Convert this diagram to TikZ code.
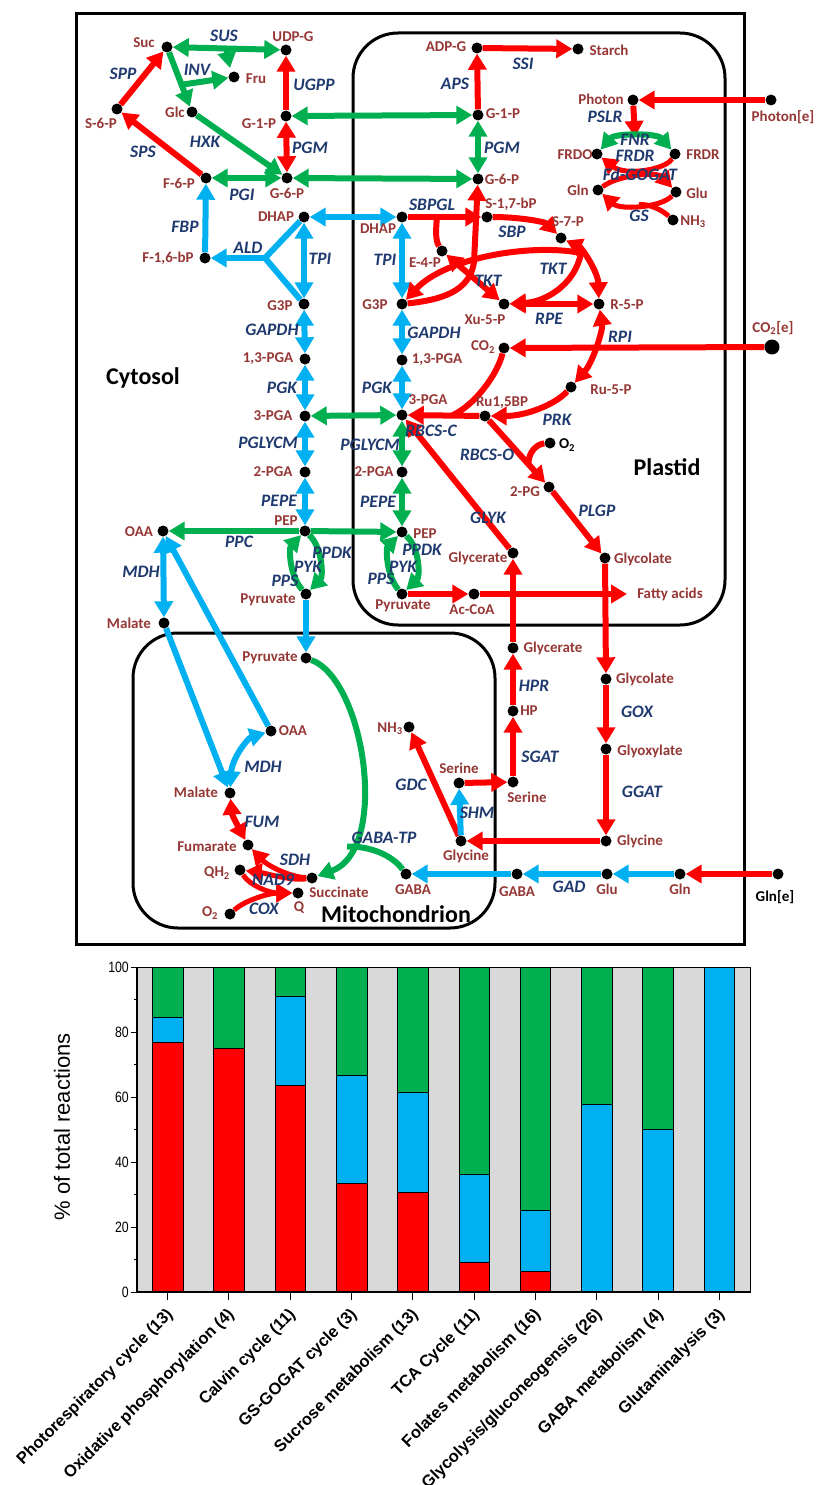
\documentclass[tikz,border=0pt]{standalone}
\usepackage{fontspec}
\setmainfont{Carlito}
\newfontfamily\chartfont{Liberation Sans}
\newfontfamily\narrowfont[FakeStretch=0.82]{Liberation Sans}
\usetikzlibrary{arrows.meta,calc}
\definecolor{cred}{HTML}{FF0000}
\definecolor{cgreen}{HTML}{00B050}
\definecolor{cblue}{HTML}{00B0F0}
\definecolor{cmet}{HTML}{953735}
\definecolor{cenz}{HTML}{1F3A6E}
\definecolor{cgray}{HTML}{D9D9D9}
\pgfdeclarelayer{frame}
\pgfdeclarelayer{paths}
\pgfsetlayers{frame,paths,main}
\tikzset{
  mdot/.style={circle,fill=black,inner sep=0pt,minimum size=11pt},
  bigdot/.style={circle,fill=black,inner sep=0pt,minimum size=15pt},
  mlab/.style={text=cmet,font=\bfseries\fontsize{15}{15}\selectfont,inner sep=0pt},
  blab/.style={mlab,text=black},
  enz/.style={text=cenz,font=\bfseries\itshape\fontsize{17.5}{17.5}\selectfont,inner sep=0pt},
  comp/.style={font=\bfseries\fontsize{24}{24}\selectfont,inner sep=0pt},
  rx/.style={line width=6pt},
  redrx/.style={rx,draw=cred},
  grnrx/.style={rx,draw=cgreen},
  blurx/.style={rx,draw=cblue},
  >={Triangle[length=16pt,width=18pt]},
  bar/.style={draw=black,line width=0.6pt},
}
% metabolite: name, dot position, text, text position
\newcommand\mt[4]{\node[mdot] (#1) at (#2) {}; \node[mlab] (#1-t) at (#4) {#3};}
% enzyme label: name, position, text
\newcommand\ez[3]{\node[enz] (#1) at (#2) {#3};}
\begin{document}
\begin{tikzpicture}[x=1pt,y=-1pt]
\useasboundingbox (0,0) rectangle (816,1485);

% ---------- compartments ----------
\begin{pgfonlayer}{frame}
\draw[line width=3pt] (76,14) rectangle (744,944);
\draw[line width=3pt,rounded corners=45pt] (353,33) rectangle (725,625);
\draw[line width=3pt,rounded corners=45pt] (133,633) rectangle (495,928);
\end{pgfonlayer}
\node[comp] (cyt) at (143,378) {Cytosol};
\node[comp] (pla) at (667,467) {Plastid};
\node[comp] (mit) at (396,914) {Mitochondrion};

% ---------- cytosol metabolites ----------
\mt{Suc}{167,47}{Suc}{144,43}
\mt{UDPG}{286,50}{UDP-G}{293,37}
\mt{Fru}{234,77}{Fru}{256,79}
\mt{Glc}{192,112}{Glc}{175,112}
\mt{SsixP}{117,109}{S-6-P}{101,123}
\mt{GonePc}{286,116}{G-1-P}{259,124}
\mt{FsixP}{206,178}{F-6-P}{179,183}
\mt{GsixPc}{287,178}{G-6-P}{287,193}
\mt{FbP}{205,258}{F-1,6-bP}{168,258}
\mt{DHAPc}{304,217}{DHAP}{276,217}
\mt{GtPc}{304,304}{G3P}{280,306}
\mt{BPGc}{305,359}{1,3-PGA}{268,359}
\mt{TPGc}{305,416}{3-PGA}{273,416}
\mt{DPGc}{305,472}{2-PGA}{273,472}
\mt{PEPc}{305,531}{PEP}{286,521}
\mt{Pyrc}{306,594}{Pyruvate}{268,600}
\mt{OAAc}{163,531}{OAA}{139,532}
\mt{Malc}{164,623}{Malate}{129,623}
\mt{Glycerc}{513,648}{Glycerate}{553,648}
\mt{HP}{513,711}{HP}{529,711}
\mt{Serc}{513,782}{Serine}{527,797}
\mt{Glycolc}{606,679}{Glycolate}{645,679}
\mt{Glyox}{606,749}{Glyoxylate}{650,751}
\mt{Glycc}{606,841}{Glycine}{640,841}
\mt{GABAc}{517,874}{GABA}{517,892}
\mt{Gluc}{607,874}{Glu}{607,889}
\mt{Glnc}{680,874}{Gln}{680,889}

% ---------- plastid metabolites ----------
\mt{ADPG}{477,48}{ADP-G}{446,47}
\mt{Starch}{578,49}{Starch}{609,50}
\mt{GonePp}{478,115}{G-1-P}{503,114}
\mt{GsixPp}{478,179}{G-6-P}{502,179}
\mt{DHAPp}{402,217}{DHAP}{378,229}
\mt{SbP}{487,217}{S-1,7-bP}{511,204}
\mt{SsevP}{561,238}{S-7-P}{568,222}
\mt{EfourP}{442,251}{E-4-P}{425,263}
\mt{GtPp}{402,304}{G3P}{375,305}
\mt{XuP}{504,304}{Xu-5-P}{485,320}
\mt{RfiveP}{599,304}{R-5-P}{627,305}
\mt{COtwop}{504,348}{CO\textsubscript{2}}{483,347}
\mt{BPGp}{402,360}{1,3-PGA}{437,360}
\mt{RufiveP}{571,387}{Ru-5-P}{611,390}
\mt{TPGp}{402,415}{3-PGA}{428,400}
\mt{RuBP}{485,416}{Ru1,5BP}{502,403}
\node[mdot] (Otwop) at (550,443) {};
\node[blab] (Otwop-t) at (567,445) {O\textsubscript{2}};
\mt{PGtwo}{549,487}{2-PG}{525,492}
\mt{DPGp}{402,472}{2-PGA}{374,472}
\mt{PEPp}{402,532}{PEP}{425,534}
\mt{Glyp}{513,553}{Glycerate}{478,558}
\mt{Glcolp}{605,558}{Glycolate}{643,559}
\mt{Pyrp}{402,594}{Pyruvate}{403,606}
\mt{AcCoA}{474,594}{Ac-CoA}{472,610}
\coordinate (FAend) at (627,594);
\node[mlab] (FA-t) at (670,594) {Fatty acids};
\mt{Photon}{633,100}{Photon}{601,99}
\mt{FRDO}{597,154}{FRDO}{575,155}
\mt{FRDR}{675,154}{FRDR}{703,155}
\mt{Glnp}{598,190}{Gln}{578,190}
\mt{Glup}{676,192}{Glu}{697,193}
\mt{NHp}{673,220}{NH\textsubscript{3}}{693,222}

% ---------- external metabolites ----------
\mt{Photone}{771,100}{Photon[e]}{783,117}
\node[bigdot] (COtwoe) at (772,347) {};
\node[mlab] (COtwoe-t) at (773,328) {CO\textsubscript{2}[e]};
\node[mdot] (Glne) at (778,874) {};
\node[blab] (Glne-t) at (775,897) {Gln[e]};

% ---------- mitochondrion metabolites ----------
\mt{Pyrm}{306,658}{Pyruvate}{270,658}
\mt{OAAm}{271,731}{OAA}{293,731}
\mt{Malm}{230,793}{Malate}{196,792}
\mt{Fum}{248,845}{Fumarate}{207,847}
\mt{Succ}{312,878}{Succinate}{339,892}
\mt{QHtwo}{240,870}{QH\textsubscript{2}}{217,873}
\mt{Qm}{298,893}{Q}{299,908}
\mt{Otwom}{230,914}{O\textsubscript{2}}{210,913}
\mt{NHm}{409,727}{NH\textsubscript{3}}{390,729}
\mt{Serm}{459,783}{Serine}{459,768}
\mt{Glym}{461,841}{Glycine}{466,856}
\mt{GABAm}{406,874}{GABA}{413,890}

% ---------- enzyme labels ----------
\ez{eSUS}{224,36}{SUS}
\ez{eINV}{197,70}{INV}
\ez{eSPP}{123,74}{SPP}
\ez{eUGPP}{314,85}{UGPP}
\ez{eHXK}{205,142}{HXK}
\ez{eSPS}{143,152}{SPS}
\ez{ePGMc}{310,148}{PGM}
\ez{ePGI}{242,195}{PGI}
\ez{eFBP}{185,227}{FBP}
\ez{eALD}{248,248}{ALD}
\ez{eTPIc}{320,259}{TPI}
\ez{eGAPDHc}{272,330}{GAPDH}
\ez{ePGKc}{282,388}{PGK}
\ez{ePGLYCMc}{268,443}{PGLYCM}
\ez{ePEPEc}{279,501}{PEPE}
\ez{ePPC}{239,542}{PPC}
\ez{eMDHc}{141,572}{MDH}
\ez{ePPDKc}{332,553}{PPDK}
\ez{ePYKc}{308,567}{PYK}
\ez{ePPSc}{285,581}{PPS}
\ez{eAPS}{455,84}{APS}
\ez{eSSI}{523,64}{SSI}
\ez{ePGMp}{502,148}{PGM}
\ez{eSBPGL}{432,205}{SBPGL}
\ez{eSBP}{512,232}{SBP}
\ez{eTPIp}{385,260}{TPI}
\ez{eTKTa}{488,281}{TKT}
\ez{eTKTb}{553,269}{TKT}
\ez{eRPE}{549,319}{RPE}
\ez{eRPI}{620,337}{RPI}
\ez{eGAPDHp}{434,333}{GAPDH}
\ez{ePGKp}{377,388}{PGK}
\ez{ePRK}{557,420}{PRK}
\ez{eRBCSC}{431,431}{RBCS-C}
\ez{eRBCSO}{487,455}{RBCS-O}
\ez{ePGLYCMp}{370,445}{PGLYCM}
\ez{ePEPEp}{378,502}{PEPE}
\ez{eGLYK}{488,518}{GLYK}
\ez{ePLGP}{597,511}{PLGP}
\ez{ePPDKp}{422,550}{PPDK}
\ez{ePYKp}{403,567}{PYK}
\ez{ePPSp}{381,579}{PPS}
\ez{ePSLR}{605,117}{PSLR}
\ez{eFNR}{635,140}{FNR}
\ez{eFRDR}{635,156}{FRDR}
\ez{eFdGOGAT}{640,174}{Fd-GOGAT}
\ez{eGS}{639,216}{GS}
\ez{eHPR}{534,686}{HPR}
\ez{eSGAT}{540,757}{SGAT}
\ez{eGOX}{637,712}{GOX}
\ez{eGGAT}{642,792}{GGAT}
\ez{eGDC}{411,785}{GDC}
\ez{eSHM}{477,813}{SHM}
\ez{eGABATP}{384,838}{GABA-TP}
\ez{eGAD}{569,887}{GAD}
\ez{eMDHm}{263,767}{MDH}
\ez{eFUM}{262,822}{FUM}
\ez{eSDH}{295,860}{SDH}
\ez{eNAD}{273,880}{NAD9}
\ez{eCOX}{264,909}{COX}

% ---------- junction points ----------
\coordinate (susA) at (226,48);
\coordinate (susB) at (230,68);
\coordinate (invA) at ($(Suc)!0.58!(Glc)$);
\coordinate (aldJ) at (265,258);
\coordinate (pslrEnd) at (635,137);
\coordinate (gsJ) at (639,204.5);
\coordinate (sbpJ) at (437,217);
\coordinate (tktJ) at (581,253);
\coordinate (rbcJ) at (452,415.5);
\coordinate (oxJ) at ($(RuBP)!0.68!(PGtwo)$);
\coordinate (gabaJ) at (347,846.5);

% ---------- reactions ----------
\begin{pgfonlayer}{paths}
% sucrose and hexose phosphates
\draw[grnrx,<->] (Suc) -- (UDPG);
\draw[grnrx,->] (susA) -- (susB);
\draw[grnrx,->] (Suc) -- (Glc);
\draw[grnrx,->] (invA) -- (Fru);
\draw[grnrx,->] (Glc) -- (GsixPc);
\draw[grnrx,<->] (FsixP) -- (GsixPc);
\draw[redrx,->] (SsixP) -- (Suc);
\draw[redrx,->] (FsixP) -- (SsixP);
\draw[redrx,->] (GonePc) -- (UDPG);
\draw[redrx,<->] (GonePc) -- (GsixPc);
\draw[grnrx,<->] (GonePc) -- (GonePp);
\draw[grnrx,<->] (GsixPc) -- (GsixPp);
\draw[grnrx,<->] (GonePp) -- (GsixPp);
\draw[redrx,->] (GonePp) -- (ADPG);
\draw[redrx,->] (ADPG) -- (Starch);
% cytosolic glycolysis
\draw[blurx,->] (FbP) -- (FsixP);
\draw[blurx,->] (aldJ) -- (FbP);
\draw[blurx] (aldJ) -- (DHAPc);
\draw[blurx] (aldJ) -- (GtPc);
\draw[blurx,<->] (DHAPc) -- (GtPc);
\draw[blurx,<->] (GtPc) -- (BPGc);
\draw[blurx,<->] (BPGc) -- (TPGc);
\draw[blurx,<->] (TPGc) -- (DPGc);
\draw[blurx,<->] (DPGc) -- (PEPc);
\draw[blurx,<->] (DHAPp) -- (DHAPc);
\draw[grnrx,<->] (TPGc) -- (TPGp);
\draw[grnrx,->] (PEPc) -- (OAAc);
\draw[grnrx,->] (PEPc) -- (PEPp);
\draw[grnrx,->] (Pyrc) .. controls (289,575) and (289,548) .. (PEPc);
\draw[grnrx,->] (PEPc) .. controls (323,548) and (323,577) .. (Pyrc);
\draw[blurx,->] (Pyrc) -- (Pyrm);
\draw[blurx,<->] (OAAc) -- (Malc);
\draw[blurx,->] (OAAm) -- (OAAc);
\draw[blurx,->] (Malc) -- (Malm);
% plastid glycolysis
\draw[blurx,<->] (DHAPp) -- (GtPp);
\draw[blurx,<->] (GtPp) -- (BPGp);
\draw[blurx,<->] (BPGp) -- (TPGp);
\draw[grnrx,<->] (TPGp) -- (DPGp);
\draw[grnrx,<->] (DPGp) -- (PEPp);
\draw[grnrx,->] (Pyrp) .. controls (386,575) and (386,548) .. (PEPp);
\draw[grnrx,->] (PEPp) .. controls (420,548) and (420,577) .. (Pyrp);
\draw[redrx,->] (Pyrp) -- (AcCoA);
\draw[redrx,->] (AcCoA) -- (FAend);
% Calvin cycle
\draw[redrx,->] (DHAPp) -- (SbP);
\draw[redrx] (EfourP) .. controls (435,240) and (436,228) .. (sbpJ);
\draw[redrx,->] (SbP) .. controls (520,217) and (545,222) .. (SsevP);
\draw[redrx,<->] (SsevP) .. controls (582,248) and (598,272) .. (RfiveP);
\draw[redrx,->] (tktJ) .. controls (530,243) and (445,258) .. (GtPp);
\draw[redrx,->] (tktJ) .. controls (575,285) and (545,302) .. (XuP);
\draw[redrx,->] (GtPp) .. controls (440,300) and (470,292) .. (474,262) -- (GsixPp);
\draw[redrx,<->] (EfourP) -- (XuP);
\draw[redrx,<->] (XuP) -- (RfiveP);
\draw[redrx,<->] (RfiveP) .. controls (603,330) and (593,362) .. (RufiveP);
\draw[redrx,->] (RufiveP) .. controls (555,405) and (525,416) .. (RuBP);
\draw[redrx,->] (RuBP) -- (TPGp);
\draw[redrx,->] (COtwoe) -- (COtwop);
\draw[redrx] (COtwop) .. controls (497,375) and (475,405) .. (rbcJ);
% photorespiration
\draw[redrx,->] (RuBP) -- (PGtwo);
\draw[redrx] (Otwop) .. controls (537,444) and (528,452) .. (oxJ);
\draw[redrx,->] (Glyp) -- (TPGp);
\draw[redrx,->] (PGtwo) -- (Glcolp);
\draw[redrx,->] (Glcolp) -- (Glycolc);
\draw[redrx,->] (Glycolc) -- (Glyox);
\draw[redrx,->] (Glyox) -- (Glycc);
\draw[redrx,->] (Glycc) -- (Glym);
\draw[redrx,->] (Glym) -- (NHm);
\draw[blurx,->] (Glym) -- (Serm);
\draw[redrx,->] (Serm) -- (Serc);
\draw[redrx,->] (Serc) -- (HP);
\draw[redrx,->] (HP) -- (Glycerc);
\draw[redrx,->] (Glycerc) -- (Glyp);
% light reactions and GS-GOGAT
\draw[redrx,->] (Photone) -- (Photon);
\draw[redrx,->] (Photon) -- (pslrEnd);
\draw[grnrx,<->] (FRDO) .. controls (615,133) and (657,133) .. (FRDR);
\draw[redrx,line width=5pt,->] (FRDR) .. controls (665,170) and (625,176) .. (FRDO);
\draw[redrx,line width=5pt,->] (Glnp) .. controls (620,174) and (658,172) .. (Glup);
\draw[redrx,line width=5pt,->] (Glup) .. controls (660,208) and (620,210) .. (Glnp);
\draw[redrx,line width=5pt] (NHp) .. controls (662,210) and (650,204) .. (gsJ);
% glutamine and GABA
\draw[redrx,->] (Glne) -- (Glnc);
\draw[blurx,->] (Glnc) -- (Gluc);
\draw[blurx,->] (Gluc) -- (GABAc);
\draw[blurx,->] (GABAc) -- (GABAm);
% mitochondrion
\draw[blurx,<->] (OAAm) .. controls (248,738) and (232,758) .. (Malm);
\draw[redrx,<->] (Malm) .. controls (232,815) and (240,830) .. (Fum);
\draw[redrx,line width=5pt,->] (Succ) .. controls (290,877) and (268,866) .. (Fum);
\draw[redrx,line width=5pt,->] (Succ) .. controls (290,881) and (265,873) .. (QHtwo);
\draw[redrx,line width=5pt,->] (QHtwo) .. controls (250,886) and (270,893) .. (Qm);
\draw[redrx,line width=5pt,->] (Otwom) .. controls (245,900) and (270,893) .. (Qm);
\draw[grnrx,->] (Pyrm) .. controls (365,680) and (390,850) .. (Succ);
\draw[grnrx] (GABAm) .. controls (392,855) and (370,846) .. (gabaJ);
\end{pgfonlayer}

% ---------- bar chart ----------
\def\chX{137}\def\chW{30.65}\def\chY{1292}\def\chS{3.25}
% grey separators
\draw[bar,fill=cgray] (\chX,\chY) rectangle ({\chX+0.5*\chW},{\chY-100*\chS});
\foreach \i in {0,...,8}
  \draw[bar,fill=cgray] ({\chX+(2*\i+1.5)*\chW},\chY) rectangle ({\chX+(2*\i+2.5)*\chW},{\chY-100*\chS});
\draw[bar,fill=cgray] ({\chX+19.5*\chW},\chY) rectangle ({\chX+20*\chW},{\chY-100*\chS});
% stacked bars: index / red top / blue top
\foreach \i/\r/\b in {0/76.92/84.62, 1/75/75, 2/63.64/90.91, 3/33.33/66.67, 4/30.77/61.54,
                      5/9.09/36.36, 6/6.25/25, 7/0/57.69, 8/0/50, 9/0/100} {
  \draw[bar,fill=cgreen] ({\chX+(2*\i+0.5)*\chW},\chY) rectangle ({\chX+(2*\i+1.5)*\chW},{\chY-100*\chS});
  \draw[bar,fill=cblue] ({\chX+(2*\i+0.5)*\chW},\chY) rectangle ({\chX+(2*\i+1.5)*\chW},{\chY-\b*\chS});
  \draw[bar,fill=cred] ({\chX+(2*\i+0.5)*\chW},\chY) rectangle ({\chX+(2*\i+1.5)*\chW},{\chY-\r*\chS});
}
% axes
\draw[line width=1.2pt] (\chX,{\chY-100*\chS}) -- (\chX,\chY) -- ({\chX+20*\chW},\chY);
\foreach \v in {0,20,...,100} {
  \draw[line width=1pt] (\chX,{\chY-\v*\chS}) -- ({\chX-6},{\chY-\v*\chS});
  \node[anchor=east,inner sep=0pt,font=\narrowfont\fontsize{15}{15}\selectfont] (yt\v) at ({\chX-8},{\chY-\v*\chS}) {\v};
}
\foreach \v in {10,30,...,90}
  \draw[line width=1pt] (\chX,{\chY-\v*\chS}) -- ({\chX-3.5},{\chY-\v*\chS});
\foreach \i/\t in {0/{Photorespiratory cycle (13)}, 1/{Oxidative phosphorylation (4)},
                   2/{Calvin cycle (11)}, 3/{GS-GOGAT cycle (3)}, 4/{Sucrose metabolism (13)},
                   5/{TCA Cycle (11)}, 6/{Folates metabolism (16)}, 7/{Glycolysis/gluconeogensis (26)},
                   8/{GABA metabolism (4)}, 9/{Glutaminalysis (3)}} {
  \draw[line width=1pt] ({\chX+(2*\i+1)*\chW},\chY) -- ({\chX+(2*\i+1)*\chW},{\chY+8});
  \node[anchor=east,rotate=45,inner sep=0pt,font=\chartfont\bfseries\fontsize{16.5}{16.5}\selectfont]
    (xl\i) at ({\chX+(2*\i+1)*\chW+3},{\chY+20}) {\t};
}
\node[rotate=90,inner sep=0pt,font=\chartfont\fontsize{22}{22}\selectfont] (ytitle) at (62,1127) {\% of total reactions};
\end{tikzpicture}
\end{document}
